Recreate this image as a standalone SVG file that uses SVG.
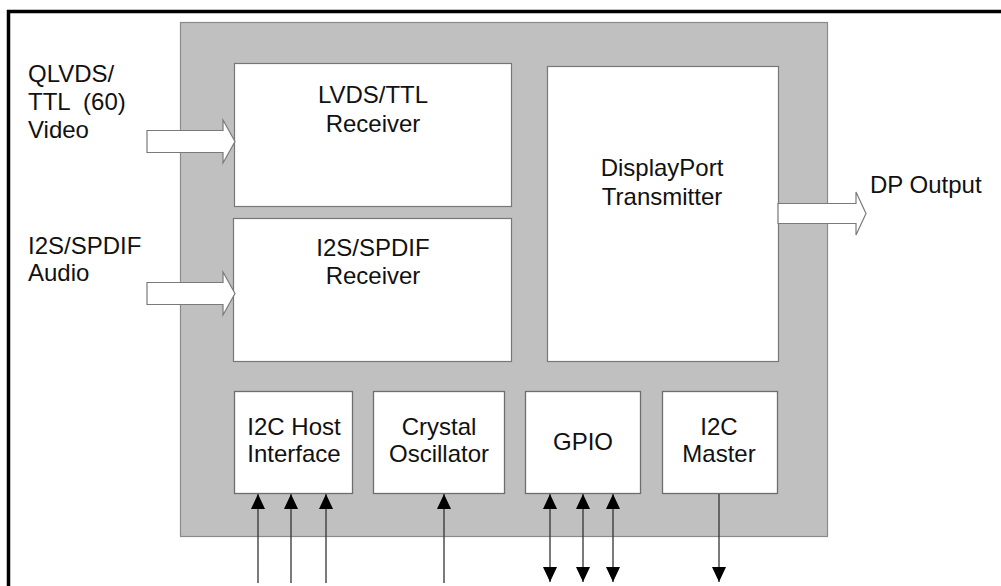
<svg xmlns="http://www.w3.org/2000/svg" width="1001" height="586" viewBox="0 0 1001 586">
<style>
text{font-family:"Liberation Sans",Arial,sans-serif;font-size:24px;fill:#111}
.c{text-anchor:middle}
.blk{fill:#fff;stroke:#6e6e6e;stroke-width:1.3}
.big{fill:#fff;stroke:#777;stroke-width:1.2}
.hollow{fill:#fff;stroke:#7a7a7a;stroke-width:1.2}
.wire{stroke:#333;stroke-width:1.3;fill:none}
</style>
<defs>
<marker id="ah" viewBox="0 0 15 14" refX="15" refY="7" markerWidth="15" markerHeight="14" markerUnits="userSpaceOnUse" orient="auto-start-reverse">
<path d="M0,0 L15,7 L0,14 z" fill="#000"/>
</marker>
</defs>
<rect width="1001" height="586" fill="#fff"/>
<g id="frame">
<line x1="7" y1="11.5" x2="1001" y2="11.5" stroke="#000" stroke-width="3.5"/>
<line x1="8.5" y1="10" x2="8.5" y2="586" stroke="#000" stroke-width="3.5"/>
</g>
<g id="chip">
<rect x="180.5" y="22.5" width="647" height="514" fill="#c0c0c0" stroke="#8a8a8a" stroke-width="1.2"/>
</g>
<g id="lvds">
<rect class="big" x="234.5" y="63.5" width="277" height="143"/>
<text class="c" x="373" y="103">LVDS/TTL</text>
<text class="c" x="373" y="132">Receiver</text>
</g>
<g id="i2s">
<rect class="big" x="233.5" y="218.5" width="278" height="143"/>
<text class="c" x="373" y="256">I2S/SPDIF</text>
<text class="c" x="373" y="284">Receiver</text>
</g>
<g id="dp">
<rect class="big" x="547.5" y="66.5" width="231" height="295"/>
<text class="c" x="662" y="176">DisplayPort</text>
<text class="c" x="662" y="205">Transmitter</text>
</g>
<g id="i2chost">
<rect class="blk" x="234.5" y="391.5" width="118" height="102"/>
<text class="c" x="294" y="435">I2C Host</text>
<text class="c" x="294" y="462">Interface</text>
</g>
<g id="crystal">
<rect class="blk" x="373.5" y="391.5" width="131" height="102"/>
<text class="c" x="439" y="435">Crystal</text>
<text class="c" x="439" y="462">Oscillator</text>
</g>
<g id="gpio">
<rect class="blk" x="525.5" y="391.5" width="115" height="102"/>
<text class="c" x="583" y="450">GPIO</text>
</g>
<g id="i2cmaster">
<rect class="blk" x="662.5" y="391.5" width="115" height="102"/>
<text class="c" x="719" y="435">I2C</text>
<text class="c" x="719" y="462">Master</text>
</g>
<g id="labels">
<text x="28" y="82">QLVDS/</text>
<text x="28" y="110" xml:space="preserve">TTL  (60)</text>
<text x="28" y="138">Video</text>
<text x="28" y="254">I2S/SPDIF</text>
<text x="28" y="281">Audio</text>
<text x="870" y="193">DP Output</text>
</g>
<g id="connectors">
<polygon class="hollow" points="147,130.5 223,130.5 223,120 235,141.5 223,163 223,152.5 147,152.5"/>
<polygon class="hollow" points="147,282.5 223,282.5 223,272 235,293.5 223,315 223,304.5 147,304.5"/>
<polygon class="hollow" points="778,203.5 856,203.5 856,192 866,213.5 856,235 856,223.5 778,223.5"/>
<line class="wire" x1="258" y1="583" x2="258" y2="494" marker-end="url(#ah)"/>
<line class="wire" x1="291" y1="583" x2="291" y2="494" marker-end="url(#ah)"/>
<line class="wire" x1="326" y1="583" x2="326" y2="494" marker-end="url(#ah)"/>
<line class="wire" x1="444" y1="583" x2="444" y2="494" marker-end="url(#ah)"/>
<line class="wire" x1="550" y1="582" x2="550" y2="494" marker-start="url(#ah)" marker-end="url(#ah)"/>
<line class="wire" x1="583" y1="582" x2="583" y2="494" marker-start="url(#ah)" marker-end="url(#ah)"/>
<line class="wire" x1="613" y1="582" x2="613" y2="494" marker-start="url(#ah)" marker-end="url(#ah)"/>
<line class="wire" x1="719" y1="494" x2="719" y2="582" marker-end="url(#ah)"/>
</g>
</svg>
